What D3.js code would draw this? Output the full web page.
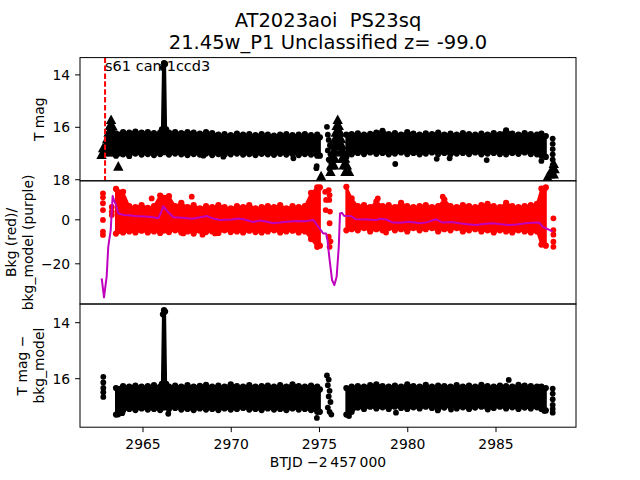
<!DOCTYPE html>
<html><head><meta charset="utf-8">
<script src="https://cdn.jsdelivr.net/npm/d3@7"></script>
<style>body{margin:0;background:#fff} text{font-family:"DejaVu Sans",sans-serif}</style>
</head><body><svg id="c" width="640" height="480"></svg>
<script>
// ---------------- data ----------------
const titleLines = ["AT2023aoi  PS23sq", "21.45w_P1 Unclassified z= -99.0"];
const sectorLabel = "s61 cam1ccd3";
const sectorStart = 2962.88;
const xTicks = [2965, 2970, 2975, 2980, 2985];
const y1Ticks = [14, 16, 18];
const y2Ticks = [0, -20];
const y3Ticks = [14, 16];
const xLimits = [2961.46, 2989.56];
const y1Limits = [13.36, 18.06];
const y2Limits = [17.5, -38.5];
const y3Limits = [13.35, 17.75];

// dense band envelopes, segment A (before the gap) and B (after)
const segA_t = [2963.5, 2963.9, 2964.25, 2964.6, 2964.95, 2965.3, 2965.65, 2966.0, 2966.5, 2966.85, 2967.2, 2967.55, 2967.9, 2968.25, 2968.6, 2968.95, 2969.3, 2969.65, 2970.0, 2970.35, 2970.7, 2971.05, 2971.4, 2971.75, 2972.1, 2972.45, 2972.8, 2973.15, 2973.5, 2973.85, 2974.2, 2974.55, 2974.9, 2975.05];
const segB_t = [2976.55, 2976.85, 2977.2, 2977.55, 2977.9, 2978.25, 2978.6, 2978.95, 2979.3, 2979.65, 2980.0, 2980.35, 2980.7, 2981.05, 2981.4, 2981.75, 2982.1, 2982.45, 2982.8, 2983.15, 2983.5, 2983.85, 2984.2, 2984.55, 2984.9, 2985.25, 2985.6, 2985.95, 2986.3, 2986.65, 2987.0, 2987.35, 2987.6, 2987.85];

// panel 1: T mag
const p1A_top = [16.25, 16.2, 16.22, 16.18, 16.22, 16.2, 16.24, 16.22, 16.22, 16.2, 16.24, 16.2, 16.22, 16.26, 16.2, 16.24, 16.3, 16.28, 16.32, 16.26, 16.3, 16.28, 16.32, 16.28, 16.3, 16.34, 16.3, 16.28, 16.32, 16.3, 16.28, 16.32, 16.3, 16.4];
const p1A_bot = [17.1, 17.05, 17.08, 17.02, 17.06, 17.04, 17.08, 17.04, 17.06, 17.02, 17.05, 17.08, 17.04, 17.06, 17.02, 17.08, 17.04, 17.06, 17.05, 17.02, 17.06, 17.04, 17.08, 17.03, 17.05, 17.07, 17.03, 17.06, 17.04, 17.08, 17.04, 17.06, 17.1, 17.1];
const p1B_top = [16.3, 16.28, 16.25, 16.3, 16.27, 16.22, 16.15, 16.28, 16.24, 16.3, 16.2, 16.26, 16.3, 16.25, 16.28, 16.22, 16.3, 16.26, 16.3, 16.24, 16.28, 16.3, 16.26, 16.3, 16.24, 16.28, 16.14, 16.26, 16.3, 16.24, 16.28, 16.3, 16.26, 16.35];
const p1B_bot = [17.15, 17.05, 17.0, 17.04, 16.98, 17.03, 17.0, 17.05, 17.02, 16.98, 17.04, 17.0, 17.05, 17.02, 16.98, 17.04, 17.0, 17.05, 17.02, 17.0, 17.04, 16.98, 17.05, 17.02, 17.0, 17.04, 17.05, 17.0, 17.03, 16.98, 17.04, 17.05, 17.1, 17.15];
const spikeT = [2966.1, 2966.16, 2966.22, 2966.28, 2966.34];
const p1Spike_top = [16.1, 13.75, 13.57, 13.6, 16.1];
const p1Spike_bot = [16.6, 16.6, 16.6, 16.6, 16.6];
const p1DotT = [2964.25, 2968.45, 2969.58, 2973.55, 2974.87, 2979.32, 2981.67, 2982.4, 2984.5, 2987.6,
  2975.45, 2975.5, 2975.55, 2975.62, 2975.5, 2975.65, 2975.55, 2975.7, 2975.6, 2974.85,
  2988.24, 2988.24, 2988.24, 2988.24, 2988.24, 2988.24];
const p1DotM = [17.12, 17.1, 17.14, 17.2, 17.5, 17.42, 17.22, 17.2, 17.27, 17.3,
  16.0, 16.3, 16.5, 16.7, 16.9, 17.05, 17.25, 17.4, 17.6, 17.58,
  16.45, 16.65, 16.85, 17.05, 17.25, 17.45];
// upper-limit triangles
const p1TriT = [
  2963.22, 2963.15, 2963.29, 2963.08, 2963.22, 2963.36, 2963.0, 2963.15, 2963.3, 2963.45,
  2962.92, 2963.08, 2963.22, 2963.38, 2963.52, 2962.82, 2963.0, 2963.15, 2963.3, 2963.45, 2963.6,
  2962.68, 2962.77, 2963.63,
  2976.06, 2976.0, 2976.12, 2975.95, 2976.08, 2976.2, 2975.9, 2976.05, 2976.25,
  2975.85, 2976.0, 2976.15, 2976.3, 2975.8, 2975.95, 2976.2, 2976.38,
  2975.75, 2975.9, 2976.3, 2976.48, 2975.7, 2975.85, 2976.4, 2976.58, 2975.65, 2976.5, 2976.7,
  2975.12,
  2988.3, 2988.2, 2988.35, 2988.1, 2988.3, 2987.95];
const p1TriM = [
  15.72, 15.95, 15.95, 16.2, 16.2, 16.2, 16.45, 16.45, 16.45, 16.45,
  16.7, 16.7, 16.7, 16.7, 16.7, 16.95, 16.95, 16.95, 16.95, 16.95, 16.95,
  17.05, 16.8, 17.5,
  15.72, 15.95, 15.95, 16.2, 16.2, 16.2, 16.45, 16.45, 16.45,
  16.7, 16.7, 16.7, 16.7, 16.95, 16.95, 16.95, 16.95,
  17.2, 17.2, 17.2, 17.2, 17.45, 17.45, 17.45, 17.45, 17.7, 17.7, 17.7,
  17.87,
  17.4, 17.6, 17.6, 17.8, 17.8, 17.9];

// panel 2: background (red) and background model (purple)
const p2A_top = [13.8, 12.5, 6.0, 5.5, 6.5, 5.2, 6.0, 10.8, 10.5, 6.0, 7.5, 5.5, 6.5, 5.0, 6.0, 5.5, 6.5, 5.5, 5.0, 6.0, 5.5, 6.5, 5.0, 5.5, 6.0, 5.5, 6.5, 5.0, 6.0, 5.5, 6.0, 12.0, 14.5, 14.5];
const p2A_bot = [-6.5, -6.0, -5.5, -6.0, -5.2, -6.0, -5.5, -6.2, -5.8, -5.0, -6.0, -5.5, -6.5, -5.2, -5.8, -5.5, -6.2, -5.0, -5.8, -5.5, -6.0, -5.2, -5.8, -6.0, -5.5, -5.0, -6.0, -5.5, -5.2, -6.0, -5.5, -9.0, -12.5, -12.0];
const p2B_top = [14.8, 9.5, 6.0, 6.5, 5.5, 8.0, 6.0, 6.5, 5.5, 7.5, 6.0, 5.5, 6.0, 6.5, 5.5, 6.0, 9.0, 6.0, 5.5, 6.5, 6.0, 5.5, 6.5, 7.0, 6.0, 5.5, 7.5, 6.0, 5.5, 6.0, 6.5, 7.0, 14.0, 14.5];
const p2B_bot = [-5.0, -4.5, -5.0, -4.0, -5.5, -4.5, -5.0, -4.0, -5.0, -4.5, -5.5, -4.0, -5.0, -4.5, -4.0, -5.5, -4.5, -5.0, -4.0, -5.5, -5.0, -4.5, -5.5, -5.0, -6.0, -5.0, -5.5, -6.0, -5.0, -5.5, -6.0, -5.5, -11.5, -12.0];
const p2DotT = [2962.76, 2962.76, 2962.76, 2962.76, 2962.76, 2962.76, 2962.76, 2963.26, 2963.26, 2963.26,
  2965.52, 2967.79, 2967.31, 2968.4, 2969.11, 2978.33, 2982.01, 2978.8,
  2975.35, 2975.4, 2975.38, 2975.55, 2975.6, 2975.58, 2975.62, 2975.6, 2975.55, 2975.65, 2975.6,
  2988.28, 2988.28, 2988.28, 2988.28, 2988.28];
const p2DotV = [11.8, 10.0, 7.3, 4.2, -0.3, -5.6, -7.1, 5.6, 3.5, 2.0,
  9.5, 10.3, -6.4, -7.0, -6.4, 9.5, 10.3, -6.0,
  12.5, 8.8, 4.2, 13.3, 11.0, 8.8, 3.5, -1.8, -7.9, -10.0, -12.5,
  0.45, -4.9, -7.0, -10.2, -12.5];
const bkgT = [2962.69, 2962.82, 2962.97, 2963.06, 2963.20, 2963.31, 2963.38, 2963.50, 2963.63, 2963.91, 2964.20, 2964.58, 2965.14, 2965.50, 2965.90, 2966.02, 2966.18, 2966.39, 2966.75, 2967.41, 2967.80, 2968.09, 2968.64, 2969.00, 2969.39, 2970.07, 2970.40, 2970.71, 2971.28, 2971.70, 2972.04, 2972.40, 2972.79, 2973.30, 2973.74, 2974.20, 2974.68, 2974.96, 2975.24, 2975.40, 2975.48, 2975.58, 2975.74, 2975.87, 2976.00, 2976.12, 2976.19, 2976.30, 2976.43, 2976.81, 2977.10, 2977.66, 2978.23, 2978.50, 2978.80, 2979.18, 2979.60, 2980.12, 2980.68, 2981.10, 2981.63, 2982.01, 2982.50, 2982.95, 2983.40, 2983.90, 2984.30, 2984.84, 2985.30, 2985.78, 2986.20, 2986.73, 2987.10, 2987.48, 2987.68, 2987.96, 2988.24];
const bkgV = [-26.8, -35.5, -26.1, -12.5, -4.9, 10.6, 8.8, 6.5, 2.7, 1.95, 1.8, 1.5, 1.3, 1.0, 0.45, 2.4, 6.0, 3.8, 0.9, 0.6, 0.2, 0.6, 1.5, 0.4, -0.3, -0.1, 0.4, 0.0, -1.2, -0.5, -1.1, -1.8, -1.5, -1.0, -0.8, -0.9, -0.3, -3.4, -6.4, -6.4, -9.4, -17, -27.6, -29.9, -26.1, -12.5, 2.7, 2.9, 1.5, 1.5, 0.0, -0.1, -0.3, 0.2, -0.1, -1.5, -1.6, -1.1, -1.8, -1.4, 0.0, -1.5, -1.2, -1.8, -2.2, -2.6, -2.1, -1.8, -2.2, -2.6, -2.4, -1.8, -1.6, -1.5, -3.4, -4.5, -5.6];

// panel 3: T mag - bkg_model
const p3A_top = [16.35, 16.28, 16.3, 16.26, 16.3, 16.28, 16.25, 16.3, 16.3, 16.26, 16.3, 16.25, 16.3, 16.27, 16.24, 16.3, 16.26, 16.3, 16.22, 16.28, 16.3, 16.25, 16.3, 16.28, 16.26, 16.3, 16.25, 16.3, 16.22, 16.28, 16.3, 16.26, 16.3, 16.4];
const p3A_bot = [17.3, 17.15, 17.1, 17.14, 17.08, 17.12, 17.1, 17.14, 17.1, 17.06, 17.12, 17.1, 17.14, 17.08, 17.12, 17.1, 17.14, 17.08, 17.12, 17.1, 17.06, 17.12, 17.1, 17.14, 17.08, 17.12, 17.1, 17.14, 17.08, 17.12, 17.1, 17.14, 17.2, 17.2];
const p3B_top = [16.35, 16.3, 16.28, 16.3, 16.25, 16.22, 16.28, 16.3, 16.26, 16.3, 16.22, 16.28, 16.3, 16.24, 16.3, 16.26, 16.28, 16.3, 16.25, 16.3, 16.26, 16.3, 16.24, 16.28, 16.3, 16.26, 16.28, 16.3, 16.24, 16.26, 16.28, 16.3, 16.3, 16.35];
const p3B_bot = [17.3, 17.2, 17.05, 17.1, 17.02, 17.08, 17.04, 17.1, 17.02, 17.06, 17.1, 17.04, 17.08, 17.02, 17.06, 17.1, 17.05, 17.02, 17.08, 17.04, 17.1, 17.05, 17.02, 17.08, 17.06, 17.02, 17.08, 17.04, 17.1, 17.05, 17.08, 17.04, 17.1, 17.15];
const p3Spike_top = [16.2, 13.72, 13.57, 13.62, 16.2];
const p3Spike_bot = [16.7, 16.7, 16.7, 16.7, 16.7];
const p3DotT = [2962.78, 2962.78, 2962.78, 2962.78, 2962.78,
  2975.45, 2975.55, 2975.5, 2975.6, 2975.55, 2975.65, 2975.5, 2975.6, 2975.7,
  2963.62, 2963.85, 2966.46, 2974.88, 2979.36, 2981.73, 2982.48, 2984.56, 2987.77, 2985.75, 2976.7,
  2988.24, 2988.24, 2988.24, 2988.24, 2988.24, 2988.24];
const p3DotM = [15.95, 16.15, 16.35, 16.5, 16.67,
  15.9, 16.05, 16.25, 16.45, 16.65, 16.85, 17.05, 17.2, 17.3,
  17.3, 17.25, 17.27, 17.42, 17.23, 17.15, 17.12, 17.12, 17.17, 16.06, 17.35,
  16.37, 16.55, 16.75, 16.95, 17.1, 17.23];

// ---------------- drawing ----------------
const svg = d3.select("#c");
const L = 80, R = 576;
const tops = [57.6, 180.8, 304, 427.2];
const FS = 13.9, R0 = 2.9;
const BLACK = "#000", RED = "#ff0000", PURP = "#bf00bf";

const x = d3.scaleLinear().domain(xLimits).range([L, R]);
const y1 = d3.scaleLinear().domain(y1Limits).range([tops[0], tops[1]]);
const y2 = d3.scaleLinear().domain(y2Limits).range([tops[1], tops[2]]);
const y3 = d3.scaleLinear().domain(y3Limits).range([tops[2], tops[3]]);

const defs = svg.append("defs");
function panel(i) {
  defs.append("clipPath").attr("id", "cp" + i).append("rect")
    .attr("x", L).attr("y", tops[i]).attr("width", R - L).attr("height", tops[i + 1] - tops[i]);
  return svg.append("g").attr("clip-path", `url(#cp${i})`);
}
function blob(g, y, t, top, bot, color) {
  const pts = t.map((d, i) => ({ t: d, a: top[i], b: bot[i] }));
  g.append("path").datum(pts)
    .attr("d", d3.area().x(d => x(d.t)).y0(d => y(d.b)).y1(d => y(d.a)))
    .attr("fill", color).attr("stroke", color).attr("stroke-width", 2).attr("stroke-linejoin", "round");
  g.append("g").selectAll("circle").data(pts.flatMap(d => [[d.t, d.a], [d.t, d.b]])).join("circle")
    .attr("cx", d => x(d[0])).attr("cy", d => y(d[1])).attr("r", R0 + 0.2).attr("fill", color);
}
function dots(g, y, t, v, color) {
  g.append("g").selectAll("circle").data(t.map((d, i) => [d, v[i]])).join("circle")
    .attr("cx", d => x(d[0])).attr("cy", d => y(d[1])).attr("r", R0).attr("fill", color);
}
function tris(g, y, t, v, color) {
  g.append("g").selectAll("path").data(t.map((d, i) => [d, v[i]])).join("path")
    .attr("d", "M0,-5L5.2,4.6L-5.2,4.6Z")
    .attr("transform", d => `translate(${x(d[0])},${y(d[1])})`).attr("fill", color);
}

// Panel 1
const g1 = panel(0);
blob(g1, y1, segA_t, p1A_top, p1A_bot, BLACK);
blob(g1, y1, segB_t, p1B_top, p1B_bot, BLACK);
blob(g1, y1, spikeT, p1Spike_top, p1Spike_bot, BLACK);
dots(g1, y1, p1DotT, p1DotM, BLACK);
tris(g1, y1, p1TriT, p1TriM, BLACK);

// Panel 2
const g2 = panel(1);
blob(g2, y2, segA_t, p2A_top, p2A_bot, RED);
blob(g2, y2, segB_t, p2B_top, p2B_bot, RED);
dots(g2, y2, p2DotT, p2DotV, RED);
g2.append("path").datum(bkgT.map((d, i) => [d, bkgV[i]]))
  .attr("d", d3.line().x(d => x(d[0])).y(d => y2(d[1])))
  .attr("fill", "none").attr("stroke", PURP).attr("stroke-width", 2).attr("stroke-linejoin", "round");

// Panel 3
const g3 = panel(2);
blob(g3, y3, segA_t, p3A_top, p3A_bot, BLACK);
blob(g3, y3, segB_t, p3B_top, p3B_bot, BLACK);
blob(g3, y3, spikeT, p3Spike_top, p3Spike_bot, BLACK);
dots(g3, y3, p3DotT, p3DotM, BLACK);

// sector marker
svg.append("line").attr("x1", x(sectorStart)).attr("x2", x(sectorStart))
  .attr("y1", tops[0]).attr("y2", tops[1])
  .attr("stroke", RED).attr("stroke-width", 2).attr("stroke-dasharray", "5.5,2.4");
svg.append("text").attr("x", x(sectorStart)).attr("y", 70.5).attr("font-size", 14.5).text(sectorLabel);

// frames
for (let i = 0; i < 3; i++) {
  svg.append("rect").attr("x", L).attr("y", tops[i]).attr("width", R - L).attr("height", tops[i + 1] - tops[i])
    .attr("fill", "none").attr("stroke", "#000").attr("stroke-width", 1);
}

// axes
function styleAxis(a) {
  a.select(".domain").remove();
  a.selectAll(".tick line").attr("stroke-width", 1);
  a.selectAll(".tick text").attr("font-size", FS).attr("font-family", "DejaVu Sans").attr("fill", "#000");
}
const fmt = d3.format("d");
[[y1, y1Ticks], [y2, y2Ticks], [y3, y3Ticks]].forEach(([ys, tv]) => {
  const a = svg.append("g").attr("transform", `translate(${L},0)`)
    .call(d3.axisLeft(ys).tickValues(tv).tickFormat(fmt).tickSize(4.9).tickPadding(4.9));
  styleAxis(a);
  a.selectAll(".tick text").attr("dy", "0.36em");
});
const ax = svg.append("g").attr("transform", `translate(0,${tops[3]})`)
  .call(d3.axisBottom(x).tickValues(xTicks).tickFormat(fmt).tickSize(4.9).tickPadding(4.9));
styleAxis(ax);
ax.selectAll(".tick text").attr("y", 22.2).attr("dy", 0);

// titles and labels
svg.append("text").attr("x", 328).attr("y", 26.8).attr("text-anchor", "middle").attr("font-size", 19.5)
  .style("white-space", "pre").text(titleLines[0]);
svg.append("text").attr("x", 328).attr("y", 48.5).attr("text-anchor", "middle").attr("font-size", 19.5)
  .text(titleLines[1]);
svg.append("text").attr("x", 328).attr("y", 467).attr("text-anchor", "middle").attr("font-size", FS)
  .text("BTJD \u22122\u2009457\u2009000");
function ylab(lines, xs, cy) {
  lines.forEach((s, i) => {
    svg.append("text").attr("transform", `translate(${xs[i]},${cy}) rotate(-90)`)
      .attr("text-anchor", "middle").attr("font-size", FS).text(s);
  });
}
ylab(["T mag"], [43.5], (tops[0] + tops[1]) / 2);
ylab(["Bkg (red)/", "bkg_model (purple)"], [16.3, 33], (tops[1] + tops[2]) / 2);
ylab(["T mag \u2212", "bkg_model"], [27.3, 43.5], (tops[2] + tops[3]) / 2);
</script>
</body></html>
